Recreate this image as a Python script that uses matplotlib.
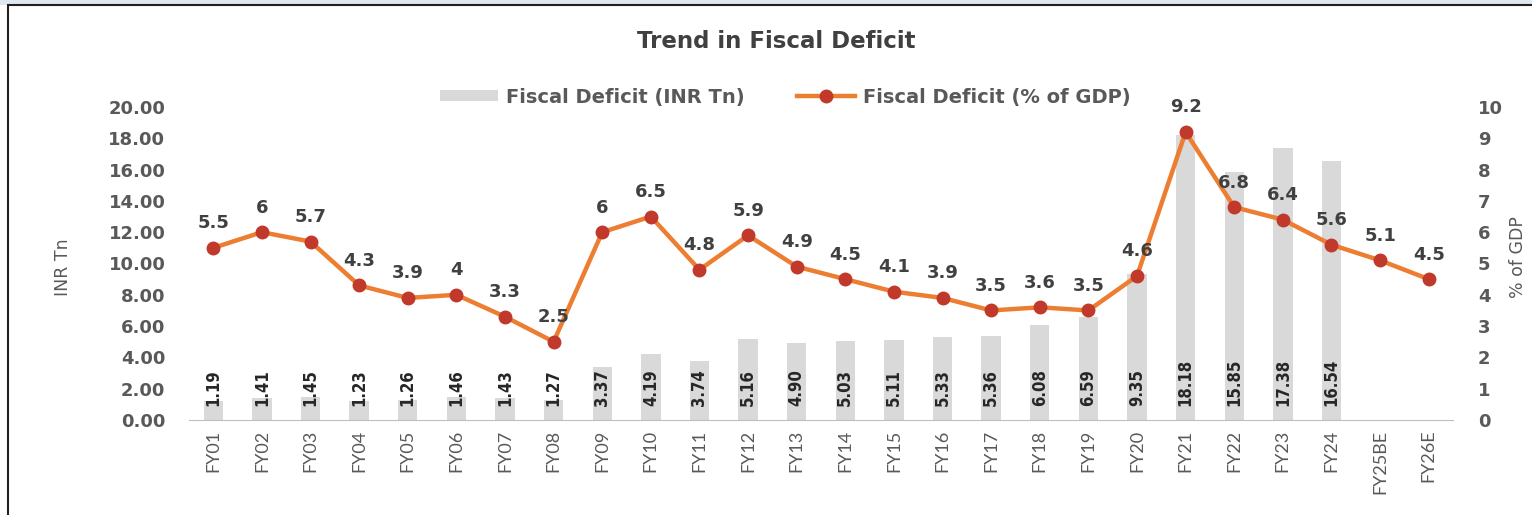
import numpy as np
import matplotlib.pyplot as plt
from matplotlib.patches import Rectangle
from matplotlib.lines import Line2D
from matplotlib.patches import Patch

plt.rcParams['font.family'] = ['DejaVu Sans']

categories = ['FY01', 'FY02', 'FY03', 'FY04', 'FY05', 'FY06', 'FY07', 'FY08', 'FY09', 'FY10',
              'FY11', 'FY12', 'FY13', 'FY14', 'FY15', 'FY16', 'FY17', 'FY18', 'FY19', 'FY20',
              'FY21', 'FY22', 'FY23', 'FY24', 'FY25BE', 'FY26E']
deficit_tn = [1.19, 1.41, 1.45, 1.23, 1.26, 1.46, 1.43, 1.27, 3.37, 4.19,
              3.74, 5.16, 4.90, 5.03, 5.11, 5.33, 5.36, 6.08, 6.59, 9.35,
              18.18, 15.85, 17.38, 16.54]
deficit_gdp = [5.5, 6, 5.7, 4.3, 3.9, 4, 3.3, 2.5, 6, 6.5,
               4.8, 5.9, 4.9, 4.5, 4.1, 3.9, 3.5, 3.6, 3.5, 4.6,
               9.2, 6.8, 6.4, 5.6, 5.1, 4.5]
gdp_labels = ['5.5', '6', '5.7', '4.3', '3.9', '4', '3.3', '2.5', '6', '6.5',
              '4.8', '5.9', '4.9', '4.5', '4.1', '3.9', '3.5', '3.6', '3.5', '4.6',
              '9.2', '6.8', '6.4', '5.6', '5.1', '4.5']

grey_txt = '#595959'
dark_txt = '#404040'
bar_col = '#d9d9d9'
line_col = '#ED7D31'
mark_col = '#C0392B'

fig = plt.figure(figsize=(15.32, 5.15), dpi=100)
fig.patches.append(Rectangle((0, 1 - 5 / 515), 1, 5 / 515, transform=fig.transFigure,
                             facecolor='#dfe8ee', edgecolor='none', zorder=0))
fig.patches.append(Rectangle((8 / 1532, -0.05), 1.0, 1 - 5 / 515 + 0.05, transform=fig.transFigure,
                             facecolor='none', edgecolor='#202020', linewidth=1.5, zorder=5))

ax = fig.add_axes([189 / 1532, 1 - 420 / 515, (1453 - 189) / 1532, (420 - 107) / 515])
x = np.arange(len(categories))
xb = x[:len(deficit_tn)]
ax.bar(xb, deficit_tn, width=0.4, color=bar_col, zorder=1)
for xi, v in zip(xb, deficit_tn):
    ax.text(xi, 0.9, f'{v:.2f}', rotation=90, ha='center', va='bottom',
            fontsize=12, fontweight='bold', fontstretch='condensed', color='#262626', zorder=2)

ax.set_ylim(0, 20)
ax.set_yticks(np.arange(0, 20.01, 2))
ax.set_yticklabels([f'{t:.2f}' for t in np.arange(0, 20.01, 2)])
ax.set_xlim(-0.5, len(categories) - 0.5)
ax.set_xticks(x)
ax.set_xticklabels(categories, rotation=90, fontsize=13, color=grey_txt,
                   family=['Lato', 'DejaVu Sans'])
ax.tick_params(axis='y', length=0, pad=17, labelsize=13, labelcolor=grey_txt)
ax.tick_params(axis='x', length=0, pad=7)
for lab in ax.get_yticklabels():
    lab.set_fontweight('bold')
for s in ['top', 'left', 'right']:
    ax.spines[s].set_visible(False)
ax.spines['bottom'].set_color('#bfbfbf')

ax2 = ax.twinx()
ax2.plot(x, deficit_gdp, color=line_col, linewidth=3.2, marker='o', markersize=9,
         markerfacecolor=mark_col, markeredgecolor=mark_col, zorder=3)
for xi, v, lab in zip(x, deficit_gdp, gdp_labels):
    ax2.text(xi, v + 0.5, lab, ha='center', va='bottom', fontsize=13,
             fontweight='bold', color=dark_txt, clip_on=False)
ax2.set_ylim(0, 10)
ax2.set_yticks(range(0, 11))
ax2.tick_params(axis='y', length=0, pad=18, labelsize=13, labelcolor=grey_txt)
for lab in ax2.get_yticklabels():
    lab.set_fontweight('bold')
for s in ['top', 'left', 'right', 'bottom']:
    ax2.spines[s].set_visible(False)

fig.text(63 / 1532, 1 - 267 / 515, 'INR Tn', rotation=90, ha='center', va='center',
         fontsize=12.5, color=grey_txt)
fig.text(1518 / 1532, 1 - 257 / 515, '% of GDP', rotation=90, ha='center', va='center',
         fontsize=12.5, color=grey_txt)

fig.text(776 / 1532, 1 - 42 / 515, 'Trend in Fiscal Deficit', ha='center', va='center',
         fontsize=16.5, fontweight='bold', color=dark_txt)

handles = [Patch(facecolor=bar_col, edgecolor='none'),
           Line2D([0], [0], color=line_col, linewidth=3.2, marker='o', markersize=9,
                  markerfacecolor=mark_col, markeredgecolor=mark_col)]
leg = fig.legend(handles, ['Fiscal Deficit (INR Tn)', 'Fiscal Deficit (% of GDP)'],
                 loc='center', bbox_to_anchor=(785 / 1532, 1 - 97 / 515), ncol=2,
                 frameon=False, fontsize=14, handlelength=3.0, handleheight=0.45,
                 columnspacing=2.7, handletextpad=0.4)
for t in leg.get_texts():
    t.set_fontweight('bold')
    t.set_color(grey_txt)

fig.savefig('out.png', dpi=100)
